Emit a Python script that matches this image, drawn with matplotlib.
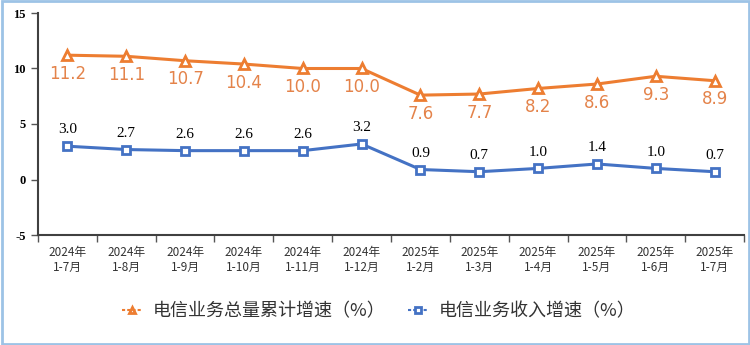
import numpy as np
import matplotlib.pyplot as plt
from matplotlib.patches import Rectangle

# Datos
meses = ['2024年\n1-7月', '2024年\n1-8月', '2024年\n1-9月', '2024年\n1-10月',
         '2024年\n1-11月', '2024年\n1-12月', '2025年\n1-2月', '2025年\n1-3月',
         '2025年\n1-4月', '2025年\n1-5月', '2025年\n1-6月', '2025年\n1-7月']
total = [11.2, 11.1, 10.7, 10.4, 10.0, 10.0, 7.6, 7.7, 8.2, 8.6, 9.3, 8.9]
ingreso = [3.0, 2.7, 2.6, 2.6, 2.6, 3.2, 0.9, 0.7, 1.0, 1.4, 1.0, 0.7]
nombre_total = '电信业务总量累计增速（%）'
nombre_ingreso = '电信业务收入增速（%）'

naranja = '#ED7D31'
azul = '#4472C4'
cjk = ['Noto Sans CJK SC', 'DejaVu Sans']

fig = plt.figure(figsize=(7.5, 3.45), dpi=100)
ax = fig.add_axes([38/750, 1-235/345, 706/750, 222/345])

x = np.arange(len(meses))
ax.plot(x, total, color=naranja, lw=2.2, marker='^', ms=7,
        markerfacecolor='white', markeredgecolor=naranja, markeredgewidth=2,
        label=nombre_total)
ax.plot(x, ingreso, color=azul, lw=2.2, marker='s', ms=5.5,
        markerfacecolor='white', markeredgecolor=azul, markeredgewidth=2,
        label=nombre_ingreso)

# Etiquetas de datos
for xi, v in zip(x, total):
    ax.annotate(f'{v:.1f}', (xi, v), xytext=(0, -7), textcoords='offset points',
                ha='center', va='top', color='#E4834A', fontsize=12,
                family='DejaVu Sans')
for xi, v in zip(x, ingreso):
    ax.annotate(f'{v:.1f}', (xi, v), xytext=(0, 7), textcoords='offset points',
                ha='center', va='bottom', color='black', fontsize=11,
                family='Liberation Serif')

ax.set_xlim(-0.5, len(meses) - 0.5)
ax.set_ylim(-5, 15)
ax.set_yticks([-5, 0, 5, 10, 15])
ax.set_yticklabels(['-5', '0', '5', '10', '15'], family='Liberation Serif',
                   fontsize=9, fontweight='bold')
ax.set_xticks(x)
ax.set_xticklabels(meses, family=cjk, fontsize=8.5, color='#333333')
ax.set_xticks(np.arange(len(meses) + 1) - 0.5, minor=True)
ax.tick_params(axis='x', which='major', length=0, pad=8)
ax.tick_params(axis='x', which='minor', length=5, width=1, color='#555555')
ax.tick_params(axis='y', length=5, width=1, color='#555555', pad=4)

for lado in ['top', 'right']:
    ax.spines[lado].set_visible(False)
ax.spines['left'].set_color('#404040')
ax.spines['left'].set_linewidth(1.5)
ax.spines['bottom'].set_color('#404040')
ax.spines['bottom'].set_linewidth(1.5)

leg = fig.legend(loc='center', bbox_to_anchor=(0.505, 1-311/345), ncol=2,
                 frameon=False, prop={'family': cjk, 'size': 13},
                 handlelength=1.1, columnspacing=1.3, handletextpad=0.6,
                 markerscale=0.7)
for t in leg.get_texts():
    t.set_color('#333333')
for h in leg.legend_handles:
    h.set_linewidth(1.5)
    h.set_linestyle((0, (1.5, 1)))

# Borde azul claro
fig.patches.append(Rectangle((0.002, 0.003), 0.996, 0.994, transform=fig.transFigure,
                             fill=False, edgecolor='#9DC3E6', lw=2))

plt.savefig('out.png', dpi=100)
